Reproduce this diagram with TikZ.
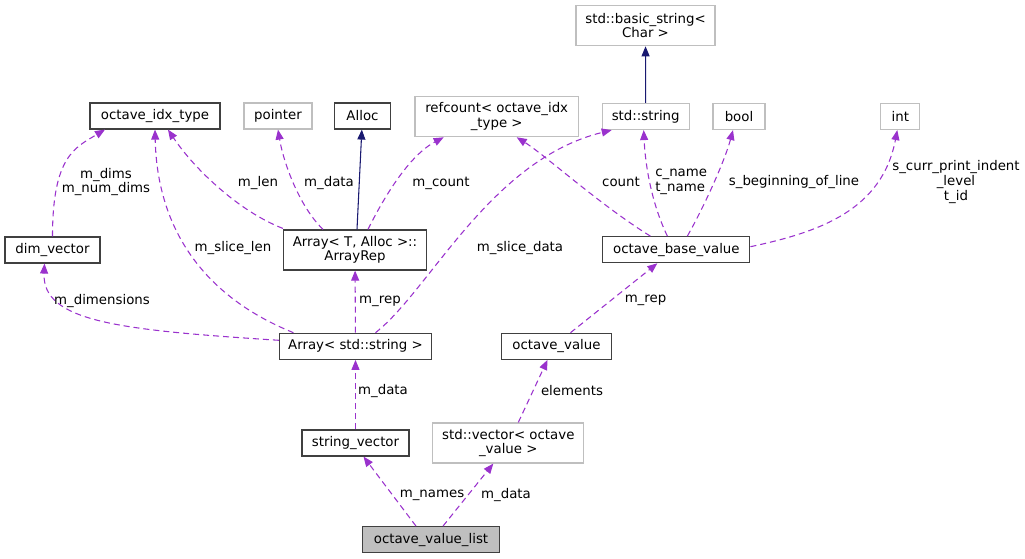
\documentclass[tikz,border=0pt]{standalone}
\usepackage{fontspec}
\setmainfont{DejaVu Sans}
\usepackage{xcolor}
\usetikzlibrary{arrows.meta,calc}

\definecolor{usecol}{HTML}{9A32CD}
\definecolor{inhcol}{HTML}{191970}
\definecolor{extgray}{HTML}{BFBFBF}
\definecolor{clsline}{HTML}{404040}

\begin{document}
\begin{tikzpicture}[x=0.75pt, y=-0.75pt,
    every node/.style={font=\fontsize{10}{10.9}\selectfont, inner sep=0pt, align=center},
    cls/.style={draw=clsline, line width=0.9pt, fill=white, minimum height=19.5pt},
    ext/.style={draw=extgray, line width=0.9pt, fill=white, minimum height=19.5pt},
    tall/.style={minimum height=30pt},
    uses/.style={draw=usecol, line width=0.8pt, dash pattern=on 4.5pt off 3pt,
        -{Triangle[length=7.5pt, width=6pt, fill=usecol]}},
    inherits/.style={draw=inhcol, line width=0.8pt,
        -{Triangle[length=7.5pt, width=6pt, fill=inhcol]}}]
    \useasboundingbox (0,0) rectangle (1025,559);

    \node[ext, tall, minimum width=104.25pt] (bstr) at (645.5,25.7) {std::basic\_string<\\Char >};
    \node[cls, minimum width=97.5pt] (oidx) at (155,116) {octave\_idx\_type};
    \node[ext, minimum width=51pt] (ptr) at (278,116) {pointer};
    \node[cls, minimum width=42pt] (alloc) at (362.5,116) {Alloc};
    \node[ext, tall, minimum width=122.5pt] (refc) at (496.7,116.7) {refcount< octave\_idx\\\_type >};
    \node[ext, minimum width=65.25pt] (sstr) at (645.7,116.5) {std::string};
    \node[ext, minimum width=39pt] (boolt) at (739,116.5) {bool};
    \node[ext, minimum width=29.25pt] (intt) at (900.3,116.5) {int};
    \node[cls, minimum width=71.25pt] (dimv) at (52.5,250) {dim\_vector};
    \node[cls, tall, minimum width=107.25pt] (arep) at (355,250) {Array< T, Alloc >::\\ArrayRep};
    \node[cls, minimum width=110.25pt] (obv) at (676.35,249.7) {octave\_base\_value};
    \node[cls, minimum width=114pt] (astr) at (355.5,346.3) {Array< std::string >};
    \node[cls, minimum width=82.5pt] (oval) at (556.5,346.3) {octave\_value};
    \node[cls, minimum width=80.25pt] (svec) at (355.5,443) {string\_vector};
    \node[ext, tall, minimum width=113.25pt] (vecv) at (508.3,443) {std::vector< octave\\\_value >};
    \node[cls, fill=extgray, minimum width=102.75pt] (ovl) at (431,539.7) {octave\_value\_list};

    \draw[inherits] (sstr) -- (bstr);
    \draw[inherits] ($(arep.north)+(2,0)$) -- (alloc);

    \draw[uses] (dimv.north) .. controls +(0,-80) and +(-30,18) .. ($(oidx.south)+(-50,0)$);
    \draw[uses] ($(arep.north west)+(0,-1)$) .. controls (240,212) and (195,170) .. ($(oidx.south)+(13,0)$);
    \draw[uses] ($(arep.north)+(-32,0)$) .. controls (298,205) and (283,160) .. (ptr.south);
    \draw[uses] ($(arep.north)+(13,0)$) .. controls (385,195) and (410,155) .. ($(refc.south)+(-53,0)$);
    \draw[uses] ($(astr.north)+(-62,0)$) .. controls (200,295) and (157,225) .. (oidx.south);
    \draw[uses] ($(astr.west)+(0,-6)$) .. controls (120,330) and (42,322) .. ($(dimv.south)+(-8,0)$);
    \draw[uses] (astr) -- (arep);
    \draw[uses] ($(astr.north)+(20,0)$) .. controls (430,290) and (490,160) .. ($(sstr.south)+(-34,0)$);
    \draw[uses] ($(obv.north)+(-26,0)$) .. controls (600,205) and (545,155) .. ($(refc.south)+(20,0)$);
    \draw[uses] ($(obv.north)+(-9,0)$) .. controls (650,200) and (645,160) .. ($(sstr.south)+(-2,0)$);
    \draw[uses] ($(obv.north)+(11,0)$) .. controls (705,205) and (725,160) .. ($(boolt.south)+(-6,0)$);
    \draw[uses] ($(obv.east)+(0,-3)$) .. controls (820,232) and (882,210) .. ($(intt.south)+(-3,0)$);
    \draw[uses] ($(oval.north)+(14,0)$) -- ($(obv.south)+(-19,0)$);
    \draw[uses] (svec) -- (astr);
    \draw[uses] ($(vecv.north)+(10,0)$) -- ($(oval.south)+(-9,0)$);
    \draw[uses] ($(ovl.north)+(-15,0)$) -- ($(svec.south)+(8,0)$);
    \draw[uses] ($(ovl.north)+(12,0)$) -- ($(vecv.south)+(-15,0)$);

    \node (ldims) at (106,182) {m\_dims\\m\_num\_dims};
    \node (llen) at (258,183) {m\_len};
    \node (lpdata) at (329,183) {m\_data};
    \node (lcount) at (441,183) {m\_count};
    \node (lslen) at (233,248) {m\_slice\_len};
    \node (ldimen) at (102,301) {m\_dimensions};
    \node (lrep) at (380,301) {m\_rep};
    \node (lsdata) at (520,248) {m\_slice\_data};
    \node (lrcount) at (621,182) {count};
    \node[align=left, anchor=west] (lnames) at (655,182) {c\_name\\t\_name};
    \node (lbeg) at (794,182) {s\_beginning\_of\_line};
    \node (lindent) at (956,182) {s\_curr\_print\_indent\\\_level\\t\_id};
    \node (lorep) at (645.5,300.7) {m\_rep};
    \node (lsvdata) at (383,391) {m\_data};
    \node (lelem) at (572,391) {elements};
    \node (lmnames) at (432,495) {m\_names};
    \node (lvdata) at (506,495) {m\_data};
\end{tikzpicture}
\end{document}
